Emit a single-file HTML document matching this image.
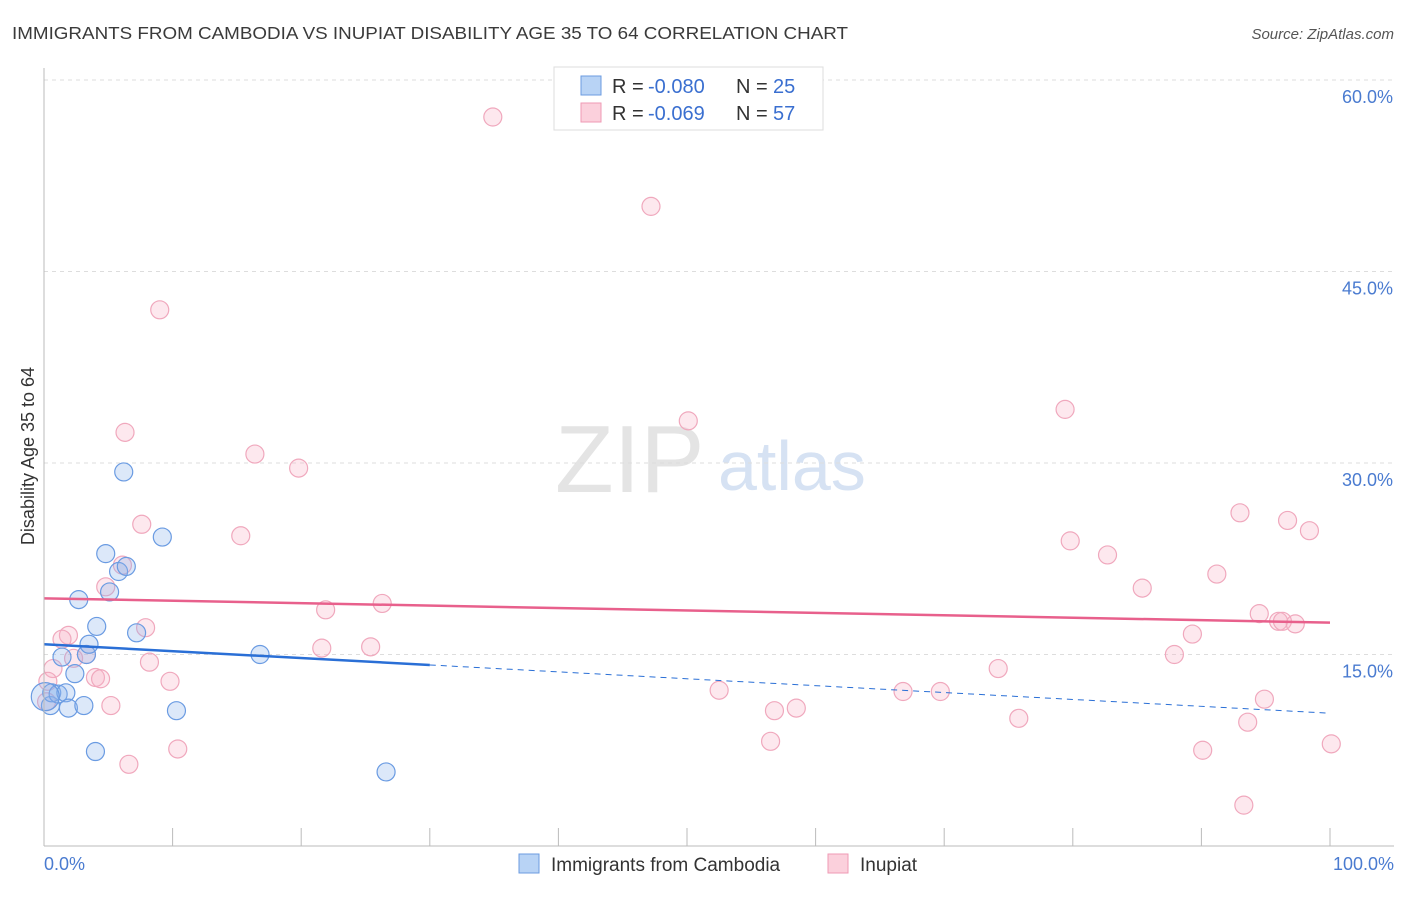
<!DOCTYPE html>
<html><head><meta charset="utf-8"><style>
body{margin:0;background:#fff;font-family:"Liberation Sans",sans-serif}
svg text{font-family:"Liberation Sans",sans-serif}
</style></head><body>
<svg id="c" width="1406" height="892">
<text x="12" y="39" font-size="17.5" fill="#3a3a3a" textLength="836" lengthAdjust="spacingAndGlyphs">IMMIGRANTS FROM CAMBODIA VS INUPIAT DISABILITY AGE 35 TO 64 CORRELATION CHART</text>
<text x="1394" y="39" font-size="15" fill="#555" font-style="italic" text-anchor="end">Source: ZipAtlas.com</text>
<text x="34" y="456" font-size="18" fill="#333" transform="rotate(-90 34 456)" text-anchor="middle">Disability Age 35 to 64</text>
<text x="555" y="492" font-size="96" fill="#e4e4e4" font-family="Liberation Serif">ZIP</text>
<text x="718" y="490" font-size="70" fill="#d6e2f3">atlas</text>
<g id="grid"></g><g id="pts"></g><g id="trend"></g>
<line x1="44" y1="68" x2="44" y2="846" stroke="#bbb"/>
<line x1="44" y1="846" x2="1394" y2="846" stroke="#bbb"/>
<text x="44" y="870" font-size="18" fill="#4a7bd0">0.0%</text>
<text x="1394" y="870" font-size="18" fill="#4a7bd0" text-anchor="end">100.0%</text>
<g>
<rect x="554" y="67" width="269" height="63" fill="#fff" stroke="#ddd"/>
<rect x="581" y="76" width="20" height="19" fill="#b8d3f5" stroke="#6b9be0"/>
<rect x="581" y="103" width="20" height="19" fill="#fbd0dc" stroke="#ef9ab4"/>
<text x="612" y="93" font-size="20" fill="#333">R =</text>
<text x="648" y="93" font-size="20" fill="#3a6fd0">-0.080</text>
<text x="736" y="93" font-size="20" fill="#333">N =</text>
<text x="773" y="93" font-size="20" fill="#3a6fd0">25</text>
<text x="612" y="120" font-size="20" fill="#333">R =</text>
<text x="648" y="120" font-size="20" fill="#3a6fd0">-0.069</text>
<text x="736" y="120" font-size="20" fill="#333">N =</text>
<text x="773" y="120" font-size="20" fill="#3a6fd0">57</text>
</g>
<g>
<rect x="519" y="854" width="20" height="19" fill="#b8d3f5" stroke="#6b9be0"/>
<text x="551" y="871" font-size="19" fill="#333">Immigrants from Cambodia</text>
<rect x="828" y="854" width="20" height="19" fill="#fbd0dc" stroke="#ef9ab4"/>
<text x="860" y="871" font-size="19" fill="#333">Inupiat</text>
</g>
</svg>
<script>
const yTicks=[15,30,45,60];
const xTickCount=10;
const blueX=[0.5,0.6,1.1,1.4,1.7,1.9,2.4,2.7,3.1,3.3,3.5,4.1,4.0,4.8,5.1,5.8,6.4,6.2,7.2,9.2,10.3,16.8,26.6,0.1];
const blueY=[11.0,12.0,11.9,14.8,12.0,10.8,13.5,19.3,11.0,15.0,15.8,17.2,7.4,22.9,19.9,21.5,21.9,29.3,16.7,24.2,10.6,15.0,5.8,11.7];
const pinkX=[34.9,47.2,9.0,6.3,16.4,19.8,50.1,79.4,7.6,15.3,79.8,82.7,93.0,96.7,98.4,6.1,4.8,85.4,91.2,21.9,26.3,94.5,96.0,96.3,97.3,7.9,89.3,1.9,1.4,21.6,25.4,87.9,3.3,2.3,8.2,0.7,74.2,4.0,4.4,9.8,0.3,52.5,66.8,69.7,5.2,94.9,56.8,58.5,75.8,93.6,10.4,56.5,90.1,100.1,6.6,93.3,0.2];
const pinkY=[57.1,50.1,42.0,32.4,30.7,29.6,33.3,34.2,25.2,24.3,23.9,22.8,26.1,25.5,24.7,22.0,20.3,20.2,21.3,18.5,19.0,18.2,17.6,17.6,17.4,17.1,16.6,16.5,16.2,15.5,15.6,15.0,15.0,14.7,14.4,13.9,13.9,13.2,13.1,12.9,12.9,12.2,12.1,12.1,11.0,11.5,10.6,10.8,10.0,9.7,7.6,8.2,7.5,8.0,6.4,3.2,11.3];
const blueTrend=[15.8,10.4];
const pinkTrend=[19.4,17.5];
const NS="http://www.w3.org/2000/svg";
const X=v=>44+v*12.86, Y=v=>846-v*191.5/15;
function mk(t,a,p){const e=document.createElementNS(NS,t);for(const k in a)e.setAttribute(k,a[k]);p.appendChild(e);return e;}
const grid=document.getElementById('grid');
yTicks.forEach(t=>{
 const l=mk('line',{x1:44,x2:1394,y1:Y(t),y2:Y(t),stroke:'#ddd','stroke-dasharray':'4,4'},grid);
 
 
 const tx=mk('text',{x:1393,y:Y(t)+23,'font-size':18,fill:'#4a7bd0','text-anchor':'end'},grid);
 tx.textContent=t.toFixed(1)+'%';
 
 
});
for(let i=1;i<=xTickCount;i++){
 const l=mk('line',{x1:X(i*10),x2:X(i*10),y1:828,y2:846,stroke:'#bbb'},grid);
 
 
}
const pts=document.getElementById('pts');
pinkX.forEach((x,i)=>{
 const c=mk('circle',{cx:X(x),cy:Y(pinkY[i]),r:9,fill:'rgba(248,180,200,0.3)',stroke:'#f0a8bd','stroke-width':1.2},pts);
 
 
});
blueX.forEach((x,i)=>{
 const c=mk('circle',{cx:X(x),cy:Y(blueY[i]),r:i==blueX.length-1?14:9,fill:'rgba(140,180,235,0.3)',stroke:'#6a9be2','stroke-width':1.2},pts);
 
 
});
const tr=document.getElementById('trend');
const p=mk('line',{x1:X(0),y1:Y(pinkTrend[0]),x2:X(100),y2:Y(pinkTrend[1]),stroke:'#e8608c','stroke-width':2.5},tr);


const bAt=v=>blueTrend[0]+(blueTrend[1]-blueTrend[0])*v/100;
const b1=mk('line',{x1:X(0),y1:Y(bAt(0)),x2:X(30),y2:Y(bAt(30)),stroke:'#2a6fd6','stroke-width':2.5},tr);


const b2=mk('line',{x1:X(30),y1:Y(bAt(30)),x2:X(100),y2:Y(bAt(100)),stroke:'#2a6fd6','stroke-width':1,'stroke-dasharray':'6,5'},tr);


</script>
</body></html>
